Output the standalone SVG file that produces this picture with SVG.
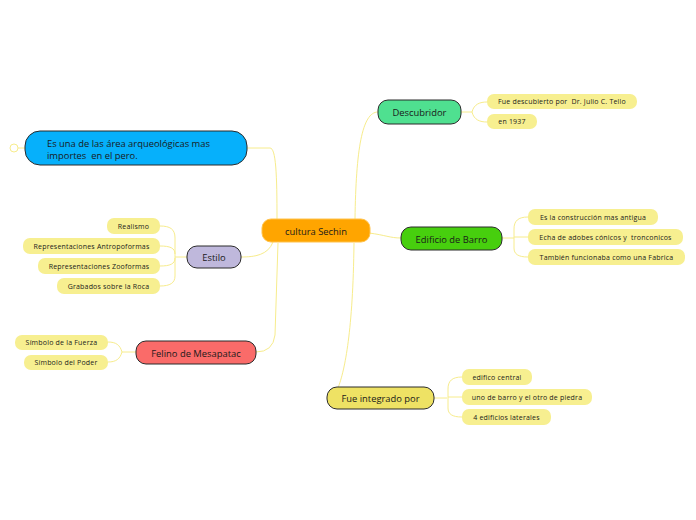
<svg xmlns="http://www.w3.org/2000/svg" width="696" height="520" viewBox="0 0 696 520">
<style>
.bg{fill:#ffffff}
.con{fill:none;stroke:#f7ec8c;stroke-width:1}
.main{stroke:#2b2b2b;stroke-width:1}
.child{fill:#f7ef90}
.mt{font-family:"Open Sans","Noto Sans",sans-serif;font-size:9.4px;fill:#1a1a1a;text-anchor:middle;dominant-baseline:central;white-space:pre}
.ct{font-family:"Open Sans","Noto Sans",sans-serif;font-size:7px;letter-spacing:0.2px;fill:#1a1a1a;text-anchor:middle;dominant-baseline:central;white-space:pre}
</style>
<rect class="bg" x="0" y="0" width="696" height="520"/>
<g id="connectors">
<path class="con" d="M277,219 C277,175 276,148 270,148 L247,148"/>
<path class="con" d="M25,148 L18,148"/>
<circle class="con" cx="14" cy="148" r="4"/>
<path class="con" d="M355,219 C356,150 362,112 378,112"/>
<path class="con" d="M369,233 C385,235 390,238 401,238"/>
<path class="con" d="M273,242 C268,255 255,257 241,257"/>
<path class="con" d="M278,243 L275,335 Q273,352 256,352"/>
<path class="con" d="M354,243 C353,330 345,370 338,388"/>
<path class="con" d="M461,112 L472,112 C474,104 480,102 487,102 M472,112 C474,120 480,122 487,122"/>
<path class="con" d="M502,238 L514,238 M528,217 C518,217 514,221 514,229 L514,248 C514,254 518,257 528,257 M514,237 L528,237"/>
<path class="con" d="M187,257 L175,257 M160,226 C170,226 175,229 175,238 L175,276 C175,283 170,286 160,286 M160,246 C170,246 175,248 175,254 M160,266 C170,266 175,264 175,258"/>
<path class="con" d="M136,352 L122,352 C120,345 116,342 108,342 M122,352 C120,359 116,362 108,362"/>
<path class="con" d="M434,398 L447,398 M462,377 C452,377 448,381 448,389 L448,408 C448,414 452,417 462,417 M448,397 L462,397"/>
</g>
<g id="central">
<rect x="262" y="219" width="108" height="23" rx="9" fill="#ffa500" stroke="#ffc24a" stroke-width="1"/>
<text class="mt" x="316" y="231">cultura Sechin</text>
</g>
<g id="n-esuna">
<rect class="main" x="25" y="131" width="222" height="34" rx="15" fill="#06b0fb"/>
<text class="mt" style="text-anchor:start" x="47" y="143">Es una de las área arqueológicas mas</text>
<text class="mt" style="text-anchor:start" x="47" y="155">importes  en el pero.</text>
</g>
<g id="n-descubridor">
<rect class="main" x="378" y="100" width="83" height="24" rx="10" fill="#4fe090"/>
<text class="mt" x="419.5" y="112.5">Descubridor</text>
</g>
<g id="n-edificio">
<rect class="main" x="401" y="227" width="101" height="23" rx="10" fill="#47cf0e"/>
<text class="mt" x="451.5" y="239">Edificio de Barro</text>
</g>
<g id="n-estilo">
<rect class="main" x="187" y="246" width="54" height="22" rx="10" fill="#bfb8dc"/>
<text class="mt" x="214" y="257.5">Estilo</text>
</g>
<g id="n-felino">
<rect class="main" x="136" y="341" width="120" height="23" rx="10" fill="#fa6b69"/>
<text class="mt" x="196" y="353">Felino de Mesapatac</text>
</g>
<g id="n-integrado">
<rect class="main" x="327" y="387" width="107" height="22" rx="10" fill="#eee264"/>
<text class="mt" x="380.5" y="398.5">Fue integrado por</text>
</g>
<g id="c-fue">
<rect class="child" x="487" y="94" width="150" height="15" rx="7"/>
<text class="ct" x="562" y="101.5">Fue descubierto por  Dr. Julio C. Tello</text>
</g>
<g id="c-1937">
<rect class="child" x="487" y="114" width="50" height="15" rx="7"/>
<text class="ct" x="512" y="121.5">en 1937</text>
</g>
<g id="c-construccion">
<rect class="child" x="528" y="209" width="130" height="16" rx="7"/>
<text class="ct" x="593" y="217">Es la construcción mas antigua</text>
</g>
<g id="c-echa">
<rect class="child" x="528" y="229" width="155" height="16" rx="7"/>
<text class="ct" x="605.5" y="237">Echa de adobes cónicos y  tronconicos</text>
</g>
<g id="c-tambien">
<rect class="child" x="528" y="249" width="157" height="16" rx="7"/>
<text class="ct" x="606.5" y="257">También funcionaba como una Fabrica</text>
</g>
<g id="c-realismo">
<rect class="child" x="107" y="218" width="53" height="16" rx="7"/>
<text class="ct" x="133.5" y="226">Realismo</text>
</g>
<g id="c-antropo">
<rect class="child" x="23" y="238" width="137" height="16" rx="7"/>
<text class="ct" x="91.5" y="246">Representaciones Antropoformas</text>
</g>
<g id="c-zoo">
<rect class="child" x="38" y="258" width="122" height="16" rx="7"/>
<text class="ct" x="99" y="266">Representaciones Zooformas</text>
</g>
<g id="c-grabados">
<rect class="child" x="57" y="278" width="103" height="16" rx="7"/>
<text class="ct" x="108.5" y="286">Grabados sobre la Roca</text>
</g>
<g id="c-fuerza">
<rect class="child" x="15" y="335" width="93" height="15" rx="7"/>
<text class="ct" x="61.5" y="342.5">Símbolo de la Fuerza</text>
</g>
<g id="c-poder">
<rect class="child" x="24" y="355" width="84" height="15" rx="7"/>
<text class="ct" x="66" y="362.5">Símbolo del Poder</text>
</g>
<g id="c-central">
<rect class="child" x="462" y="369" width="70" height="16" rx="7"/>
<text class="ct" x="497" y="377">edifico central</text>
</g>
<g id="c-barro">
<rect class="child" x="462" y="389" width="130" height="16" rx="7"/>
<text class="ct" x="527" y="397">uno de barro y el otro de piedra</text>
</g>
<g id="c-laterales">
<rect class="child" x="462" y="409" width="89" height="16" rx="7"/>
<text class="ct" x="506.5" y="417">4 edificios laterales</text>
</g>
</svg>
